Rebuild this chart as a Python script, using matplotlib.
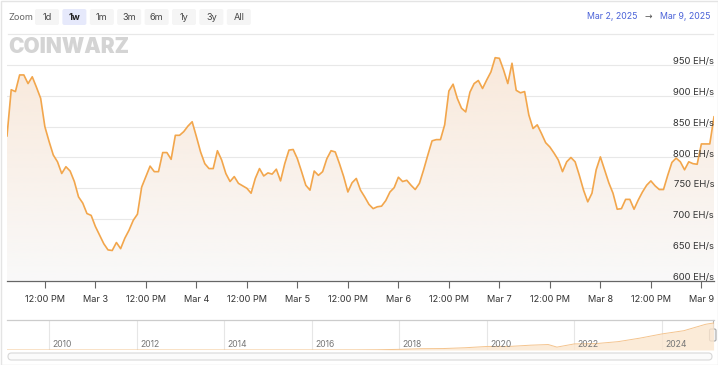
import numpy as np
import pandas as pd
import matplotlib
matplotlib.use('Agg')
import matplotlib.pyplot as plt
import matplotlib.dates as mdates
from matplotlib.patches import FancyBboxPatch, Rectangle

plt.rcParams['font.family'] = ['Inter', 'DejaVu Sans']

# hourly network hashrate (EH/s), Mar 2 03:00 -> Mar 9 03:00
start_time = '2025-03-02 03:00'
hashrate = [
    835, 910, 907, 934, 934, 920, 931, 914, 896, 850, 826, 804,
    793, 774, 785, 778, 761, 736, 726, 709, 706, 688, 674, 660,
    650, 649, 662, 652, 669, 682, 698, 708, 752, 769, 786, 777,
    777, 808, 808, 797, 836, 836, 842, 851, 858, 834, 809, 790,
    782, 782, 811, 796, 774, 761, 769, 758, 754, 750, 742, 766,
    782, 770, 775, 773, 781, 762, 790, 812, 813, 798, 777, 755,
    747, 778, 771, 777, 798, 811, 809, 790, 769, 744, 759, 766,
    747, 736, 724, 717, 720, 721, 730, 744, 751, 768, 761, 763,
    755, 748, 758, 780, 804, 827, 829, 829, 853, 908, 919, 896,
    880, 874, 906, 920, 925, 912, 926, 939, 962, 961, 942, 920,
    953, 909, 905, 907, 869, 847, 853, 839, 824, 817, 807, 796,
    777, 793, 800, 793, 771, 747, 728, 742, 780, 801, 780, 759,
    742, 716, 717, 732, 732, 716, 731, 744, 755, 762, 754, 748,
    748, 771, 792, 799, 793, 780, 793, 790, 789, 822, 822, 822,
    866,
]
y_ticks = [600, 650, 700, 750, 800, 850, 900, 950]

zoom_buttons = ['1d', '1w', '1m', '3m', '6m', '1y', '3y', 'All']
active_button = '1w'
range_from = 'Mar 2, 2025'
range_to = 'Mar 9, 2025'

# navigator: whole history (decimal year, EH/s)
nav_years = [2009.03, 2012.0, 2014.0, 2015.0, 2016.0, 2017.0, 2017.5, 2018.0,
             2018.5, 2019.0, 2019.5, 2020.0, 2020.5, 2021.0, 2021.4, 2021.6,
             2022.0, 2022.5, 2023.0, 2023.5, 2024.0, 2024.5, 2025.0, 2025.18]
nav_hashrate = [0, 0, 0.1, 0.4, 1, 2.5, 7, 20,
                40, 45, 70, 110, 110, 150, 170, 90,
                190, 200, 260, 370, 500, 600, 800, 840]
nav_year_ticks = [2010, 2012, 2014, 2016, 2018, 2020, 2022, 2024]

LINE = '#f2a64c'
W, H = 718, 365
fig = plt.figure(figsize=(W / 100, H / 100), dpi=100)

# pixel canvas for header, frame and scrollbar
bg = fig.add_axes([0, 0, 1, 1])
bg.set_xlim(0, W)
bg.set_ylim(H, 0)
bg.axis('off')

bg.add_patch(Rectangle((0.5, 0.5), W - 1, H - 1, fill=False, ec='#e4e4e4', lw=1))
bg.plot([8, 713], [33.5, 33.5], color='#e8e8e8', lw=0.9)

bg.text(8, 17, 'Zoom', fontsize=6.6, color='#666666', va='center', ha='left')
for i, b in enumerate(zoom_buttons):
    x0 = 35 + i * 27.4
    fc = '#e6e9fb' if b == active_button else '#f5f5f5'
    bg.add_patch(FancyBboxPatch((x0, 9), 24, 16, boxstyle='round,pad=0,rounding_size=2',
                                fc=fc, ec='none'))
    bg.text(x0 + 12, 17.3, b, fontsize=6.6, ha='center', va='center',
            color='#222222' if b == active_button else '#444444',
            fontweight='bold' if b == active_button else 'normal')

bg.text(637, 16.5, range_from, fontsize=6.3, color='#4a62d8', ha='right', va='center')
bg.text(648.5, 16.5, '\u2192', fontsize=6.5, color='#555555', ha='center', va='center',
        family=['DejaVu Sans'])
bg.text(710, 16.5, range_to, fontsize=6.3, color='#4a62d8', ha='right', va='center')

bg.text(8, 47, 'COINWARZ', fontsize=15, fontweight='black', color='#d4d4d4',
        ha='left', va='center')

# scrollbar + navigator handle
bg.add_patch(FancyBboxPatch((8, 353), 704, 7, boxstyle='round,pad=0,rounding_size=3.5',
                            fc='#fbfbfb', ec='#d8d8d8', lw=0.8))
bg.plot([712.7, 712.7], [320, 329], color='#b0b0b0', lw=0.8)
bg.add_patch(FancyBboxPatch((709.5, 329), 6.5, 12, boxstyle='round,pad=0,rounding_size=1.5',
                            fc='#f4f4f4', ec='#a8a8a8', lw=0.8, zorder=5))


def px_axes(left, top, right, bottom):
    return fig.add_axes([left / W, 1 - bottom / H, (right - left) / W, (bottom - top) / H])


# main chart
ax = px_axes(7, 46.6, 714, 280.7)
ax.set_facecolor('none')
times = pd.date_range(start_time, periods=len(hashrate), freq='h')
t0, t1 = mdates.date2num(times[0]), mdates.date2num(times[-1])

for v in y_ticks[1:]:
    ax.axhline(v, color='#e8e8e8', lw=0.8, zorder=0)
for v in y_ticks:
    ax.text(1.0, v + 1.6, f'{v} EH/s', transform=ax.get_yaxis_transform(),
            ha='right', va='baseline', fontsize=6.8, color='#333333', zorder=5)

fill = ax.fill_between(times, hashrate, 600, color='none', lw=0)
grad = np.zeros((256, 1, 4))
top_c = np.array([249, 233, 219]) / 255
bot_c = np.array([249, 249, 249]) / 255
k = np.linspace(0, 1, 256)[:, None]
grad[:, 0, :3] = top_c * (1 - k) + bot_c * k
grad[:, 0, 3] = 1
im = ax.imshow(grad, extent=[t0, t1, 600, 965], aspect='auto', origin='upper', zorder=1)
im.set_clip_path(fill.get_paths()[0], transform=ax.transData)
ax.plot(times, hashrate, color=LINE, lw=1.2, zorder=3, solid_joinstyle='round')

ax.set_xlim(t0, t1)
ax.set_ylim(600, 980)
tick_times = pd.date_range('2025-03-02 12:00', '2025-03-09 00:00', freq='12h')
ax.set_xticks(tick_times)
ax.set_xticklabels(['12:00 PM' if t.hour == 12 else t.strftime('%b ') + str(t.day)
                    for t in tick_times])
ax.tick_params(axis='x', length=5, width=0.8, color='#666666', labelsize=6.6,
               labelcolor='#333333', pad=5)
ax.set_yticks([])
for s in ['top', 'left', 'right']:
    ax.spines[s].set_visible(False)
ax.spines['bottom'].set_color('#666666')
ax.spines['bottom'].set_linewidth(0.9)

# navigator
nav = px_axes(7, 320, 714, 350)
nav.set_facecolor('none')
for yr in nav_year_ticks:
    nav.axvline(yr, color='#e6e6e6', lw=0.8, zorder=0)
    nav.text(yr + 0.07, 0.17, str(yr), transform=nav.get_xaxis_transform(),
             fontsize=6.2, color='#777777', va='center', ha='left')
nav.fill_between(nav_years, nav_hashrate, 0, color='#fbe6cf', alpha=0.8, lw=0, zorder=1)
nav.plot(nav_years, nav_hashrate, color='#f4c48e', lw=0.7, zorder=2)
nav.set_xlim(2009.03, 2025.19)
nav.set_ylim(0, 933)
nav.set_xticks([])
nav.set_yticks([])
for s in ['left', 'right', 'bottom']:
    nav.spines[s].set_visible(False)
nav.spines['top'].set_color('#cccccc')
nav.spines['top'].set_linewidth(0.9)

fig.savefig('out.png', dpi=100)
